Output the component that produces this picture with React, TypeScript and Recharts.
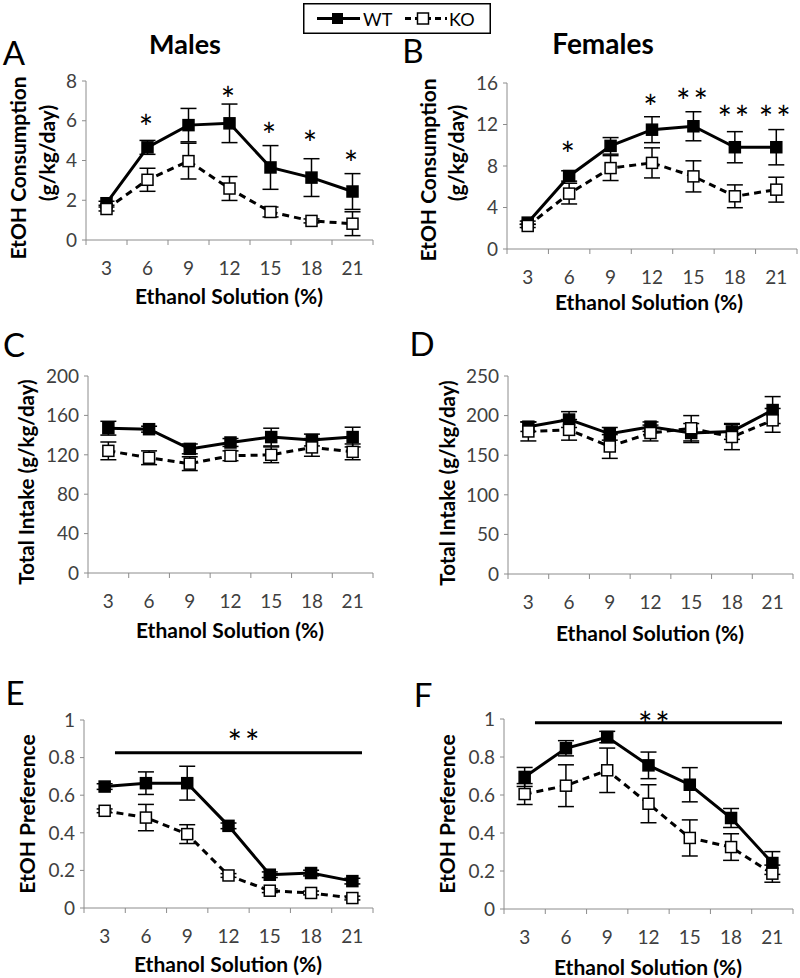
import React from "react";
import { ComposedChart, Line, XAxis, YAxis, ErrorBar, ReferenceLine, ReferenceDot } from "recharts";

const FONT = "Lato, 'Open Sans', sans-serif";
const GRAY = "#8c8c8c";

// ethanol concentrations (%)
const conc = [3, 6, 9, 12, 15, 18, 21];

// A: males, EtOH consumption (g/kg/day)
const aWt = [1.85, 4.66, 5.78, 5.87, 3.65, 3.14, 2.44];
const aWtErr = [0.1, 0.35, 0.84, 0.97, 1.1, 0.95, 0.9];
const aKo = [1.56, 3.03, 3.97, 2.59, 1.41, 0.96, 0.82];
const aKoErr = [0.1, 0.58, 0.9, 0.6, 0.25, 0.1, 0.6];
const aStars = [
  { x: 6, y: 6.1, text: "*" },
  { x: 12, y: 7.5, text: "*" },
  { x: 15, y: 5.7, text: "*" },
  { x: 18, y: 5.3, text: "*" },
  { x: 21, y: 4.3, text: "*" },
];

// B: females, EtOH consumption
const bWt = [2.54, 7.04, 9.94, 11.5, 11.83, 9.81, 9.81];
const bWtErr = [0.15, 0.5, 0.8, 1.25, 1.4, 1.5, 1.7];
const bKo = [2.22, 5.34, 7.8, 8.3, 7.0, 5.08, 5.72];
const bKoErr = [0.15, 1.0, 1.2, 1.45, 1.5, 1.1, 1.2];
const bStars = [
  { x: 6, y: 10.0, text: "*" },
  { x: 12, y: 14.5, text: "*" },
  { x: 15, y: 15.1, text: "**" },
  { x: 18, y: 13.4, text: "**" },
  { x: 21, y: 13.4, text: "**" },
];

// C: males, total intake
const cWt = [147, 146, 126, 132.5, 138, 135, 138];
const cWtErr = [7, 3, 5, 4, 9, 6, 10];
const cKo = [124, 117, 111, 119, 120, 127.5, 123];
const cKoErr = [9, 7, 7, 5, 8, 9, 8];

// D: females, total intake
const dWt = [186, 195, 177, 186, 178, 180, 207];
const dWtErr = [6, 10, 8, 6, 12, 10, 17];
const dKo = [180, 182, 161, 178, 184, 173, 194];
const dKoErr = [12, 13, 15, 10, 16, 16, 15];

// E: males, preference
const eWt = [0.646, 0.664, 0.664, 0.437, 0.177, 0.186, 0.143];
const eWtErr = [0.015, 0.06, 0.09, 0.015, 0.015, 0.015, 0.015];
const eKo = [0.517, 0.481, 0.393, 0.173, 0.092, 0.08, 0.053];
const eKoErr = [0.01, 0.07, 0.05, 0.01, 0.01, 0.01, 0.01];
const eStars = [{ x: 13.2, y: 0.93, text: "**" }];
const eSig = { from: 3.75, to: 21.7, y: 0.826 };

// F: females, preference
const fWt = [0.695, 0.846, 0.905, 0.756, 0.654, 0.479, 0.242];
const fWtErr = [0.05, 0.04, 0.03, 0.07, 0.09, 0.05, 0.06];
const fKo = [0.605, 0.649, 0.73, 0.554, 0.374, 0.326, 0.186];
const fKoErr = [0.055, 0.11, 0.117, 0.1, 0.095, 0.07, 0.045];
const fStars = [{ x: 12.5, y: 1.02, text: "**" }];
const fSig = { from: 3.75, to: 21.7, y: 0.98 };

// category boundaries + labels on a numeric axis
const X_TICKS = [1.5, 3, 4.5, 6, 7.5, 9, 10.5, 12, 13.5, 15, 16.5, 18, 19.5, 21, 22.5];

const buildRows = (wt: number[], wtErr: number[], ko: number[], koErr: number[]) =>
  conc.map((x, i) => ({ x, wt: wt[i], wtErr: wtErr[i], ko: ko[i], koErr: koErr[i] }));

const XTick = (props: any) => {
  const { x, y, payload } = props;
  const v = payload.value;
  if (v % 3 === 0) {
    return (
      <text x={x} y={y + 27} textAnchor="middle" dominantBaseline="central" fontSize={19} fontFamily={FONT} fill="#404040">
        {v}
      </text>
    );
  }
  return <line x1={x} x2={x} y1={y} y2={y + 5} stroke={GRAY} />;
};

const square = (filled: boolean) => (p: any) => (
  <rect
    key={`sq-${p.index}`}
    x={p.cx - 5.5}
    y={p.cy - 5.5}
    width={11}
    height={11}
    fill={filled ? "#000" : "#fff"}
    stroke="#000"
    strokeWidth={1.5}
  />
);

const starShape = (text: string) => (p: any) => (
  <text x={p.cx} y={p.cy} dy={8} textAnchor="middle" dominantBaseline="central" fontSize={34} fontFamily={FONT} letterSpacing={3} fill="#000">
    {text}
  </text>
);

interface Plot { left: number; top: number; right: number; bottom: number; }

interface PanelProps {
  rows: any[];
  plot: Plot;
  yMax: number;
  yTicks: number[];
  stars?: { x: number; y: number; text: string }[];
  sig?: { from: number; to: number; y: number };
}

function Panel({ rows, plot, yMax, yTicks, stars = [], sig }: PanelProps) {
  const YW = 50, MT = 32, MR = 12, XH = 45;
  const width = plot.right - plot.left + YW + MR;
  const height = plot.bottom - plot.top + MT + XH;
  return (
    <div style={{ position: "absolute", left: plot.left - YW, top: plot.top - MT }}>
      <ComposedChart width={width} height={height} data={rows} margin={{ top: MT, right: MR, left: 0, bottom: 0 }}>
        <XAxis
          type="number"
          dataKey="x"
          domain={[1.5, 22.5]}
          ticks={X_TICKS}
          interval={0}
          tick={<XTick />}
          tickLine={false}
          tickSize={0}
          tickMargin={0}
          height={XH}
          axisLine={{ stroke: GRAY }}
        />
        <YAxis
          type="number"
          domain={[0, yMax]}
          ticks={yTicks}
          interval={0}
          width={YW}
          tickSize={4}
          tickMargin={5}
          axisLine={{ stroke: GRAY }}
          tickLine={{ stroke: GRAY }}
          tick={{ fill: "#404040", fontSize: 19, fontFamily: FONT }}
        />
        {sig && (
          <ReferenceLine
            segment={[{ x: sig.from, y: sig.y }, { x: sig.to, y: sig.y }]}
            stroke="#000"
            strokeWidth={3}
          />
        )}
        <Line dataKey="wt" stroke="#000" strokeWidth={3} dot={square(true)} activeDot={false} isAnimationActive={false}>
          <ErrorBar dataKey="wtErr" direction="y" width={8} stroke="#000" strokeWidth={1.5} />
        </Line>
        <Line dataKey="ko" stroke="#000" strokeWidth={3} strokeDasharray="7 5" dot={square(false)} activeDot={false} isAnimationActive={false}>
          <ErrorBar dataKey="koErr" direction="y" width={8} stroke="#000" strokeWidth={1.5} />
        </Line>
        {stars.map((s, i) => (
          <ReferenceDot key={i} x={s.x} y={s.y} ifOverflow="visible" shape={starShape(s.text)} />
        ))}
      </ComposedChart>
    </div>
  );
}

const Txt = ({ x, y, size, bold, rotate, children }: any) => (
  <div
    style={{
      position: "absolute",
      left: x,
      top: y,
      transform: `translate(-50%, -50%)${rotate ? " rotate(-90deg)" : ""}`,
      fontSize: size,
      fontWeight: bold ? 700 : 400,
      fontFamily: FONT,
      whiteSpace: "nowrap",
      lineHeight: 1,
      color: "#000",
    }}
  >
    {children}
  </div>
);

function Legend() {
  return (
    <svg style={{ position: "absolute", left: 303, top: 3 }} width={188} height={31}>
      <rect x={0.75} y={0.75} width={186.5} height={29.5} fill="#fff" stroke="#000" strokeWidth={1.5} />
      <line x1={14} x2={57} y1={15.5} y2={15.5} stroke="#000" strokeWidth={3} />
      <rect x={29} y={10} width={11} height={11} fill="#000" />
      <text x={60} y={16} dominantBaseline="central" fontSize={18} fontFamily={FONT}>WT</text>
      <line x1={102} x2={144} y1={15.5} y2={15.5} stroke="#000" strokeWidth={3} strokeDasharray="6 4" />
      <rect x={114.5} y={10} width={11} height={11} fill="#fff" stroke="#000" strokeWidth={1.5} />
      <text x={146} y={16} dominantBaseline="central" fontSize={18} fontFamily={FONT}>KO</text>
    </svg>
  );
}

export default function App() {
  return (
    <div style={{ position: "absolute", left: 0, top: 0, width: 800, height: 978, background: "#fff", overflow: "hidden" }}>
      <Legend />

      <Txt x={185} y={43} size={27} bold>Males</Txt>
      <Txt x={603} y={43} size={28} bold>Females</Txt>

      <Txt x={14} y={52} size={33}>A</Txt>
      <Txt x={413} y={50} size={33}>B</Txt>
      <Txt x={14} y={344} size={33}>C</Txt>
      <Txt x={422} y={343} size={33}>D</Txt>
      <Txt x={15} y={692} size={33}>E</Txt>
      <Txt x={423} y={694} size={33}>F</Txt>

      <Txt x={17} y={168} size={21} bold rotate>EtOH Consumption</Txt>
      <Txt x={46} y={153} size={21} bold rotate>(g/kg/day)</Txt>
      <Txt x={427} y={170} size={21} bold rotate>EtOH Consumption</Txt>
      <Txt x={455} y={153} size={21} bold rotate>(g/kg/day)</Txt>
      <Txt x={26} y={482} size={20.5} bold rotate>Total Intake (g/kg/day)</Txt>
      <Txt x={447} y={483} size={20.5} bold rotate>Total Intake (g/kg/day)</Txt>
      <Txt x={26} y={814} size={21} bold rotate>EtOH Preference</Txt>
      <Txt x={446} y={814} size={21} bold rotate>EtOH Preference</Txt>

      <Txt x={229} y={295} size={21} bold>Ethanol Solution (%)</Txt>
      <Txt x={649} y={301} size={21} bold>Ethanol Solution (%)</Txt>
      <Txt x={230} y={629} size={21} bold>Ethanol Solution (%)</Txt>
      <Txt x={650} y={632} size={21} bold>Ethanol Solution (%)</Txt>
      <Txt x={228} y={963} size={21} bold>Ethanol Solution (%)</Txt>
      <Txt x={648} y={966} size={21} bold>Ethanol Solution (%)</Txt>

      <Panel rows={buildRows(aWt, aWtErr, aKo, aKoErr)} plot={{ left: 86, top: 81, right: 373, bottom: 240 }} yMax={8} yTicks={[0, 2, 4, 6, 8]} stars={aStars} />
      <Panel rows={buildRows(bWt, bWtErr, bKo, bKoErr)} plot={{ left: 507, top: 83, right: 797, bottom: 249 }} yMax={16} yTicks={[0, 4, 8, 12, 16]} stars={bStars} />
      <Panel rows={buildRows(cWt, cWtErr, cKo, cKoErr)} plot={{ left: 88, top: 376, right: 373, bottom: 573 }} yMax={200} yTicks={[0, 40, 80, 120, 160, 200]} />
      <Panel rows={buildRows(dWt, dWtErr, dKo, dKoErr)} plot={{ left: 508, top: 376, right: 793, bottom: 574 }} yMax={250} yTicks={[0, 50, 100, 150, 200, 250]} />
      <Panel rows={buildRows(eWt, eWtErr, eKo, eKoErr)} plot={{ left: 84, top: 720, right: 373, bottom: 908 }} yMax={1} yTicks={[0, 0.2, 0.4, 0.6, 0.8, 1]} stars={eStars} sig={eSig} />
      <Panel rows={buildRows(fWt, fWtErr, fKo, fKoErr)} plot={{ left: 504, top: 719, right: 793, bottom: 909 }} yMax={1} yTicks={[0, 0.2, 0.4, 0.6, 0.8, 1]} stars={fStars} sig={fSig} />
    </div>
  );
}
